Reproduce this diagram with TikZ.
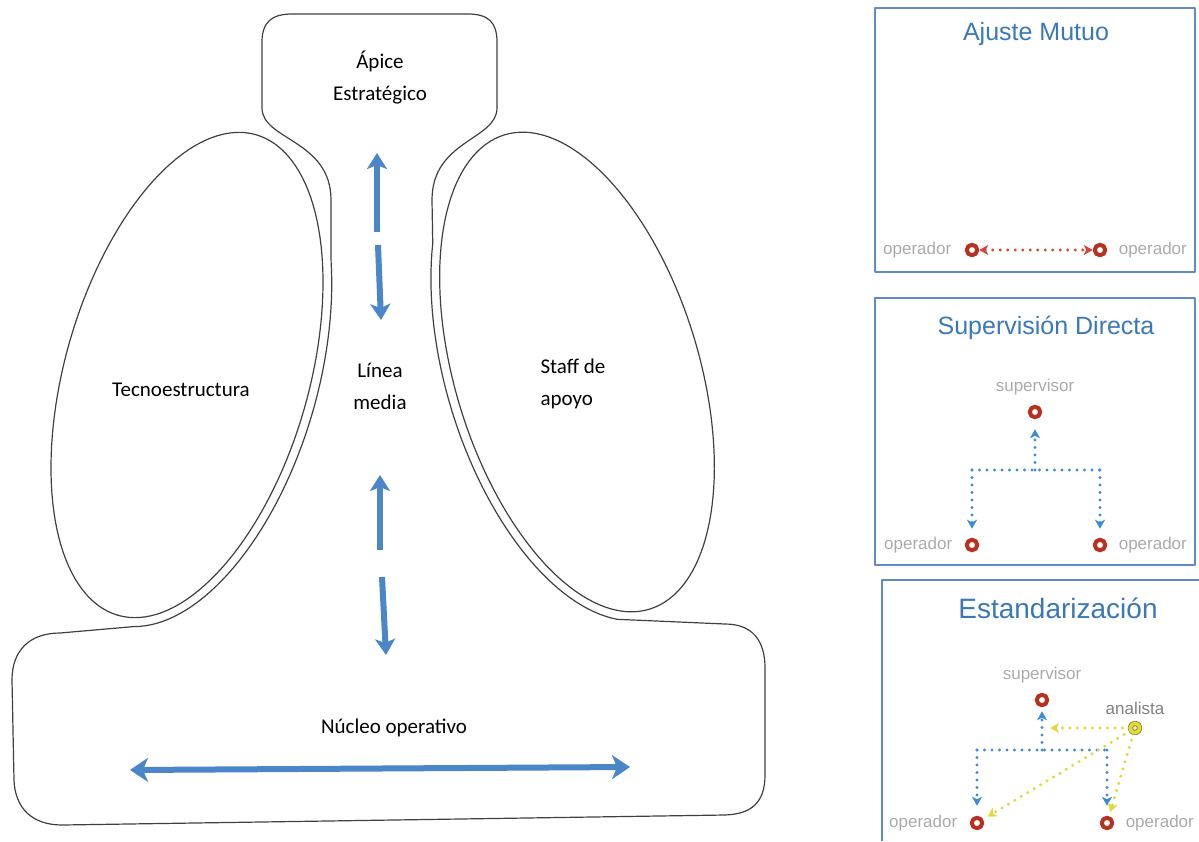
\documentclass[tikz,border=0pt]{standalone}
\usepackage{fontspec}
\setmainfont{Carlito}
\newfontfamily\panelfont{Liberation Sans}
\usepackage{tikz}
\usetikzlibrary{arrows.meta, positioning}
\definecolor{flowblue}{RGB}{74,134,200}
\definecolor{panelblue}{RGB}{95,140,200}
\definecolor{titleblue}{RGB}{58,120,185}
\definecolor{dotblue}{RGB}{60,140,215}
\definecolor{dotred}{RGB}{210,70,55}
\definecolor{dotyellow}{RGB}{226,216,72}
\definecolor{opred}{RGB}{185,48,32}
\definecolor{anayellow}{RGB}{225,220,60}
\definecolor{anaolive}{RGB}{140,140,40}
\definecolor{labelgray}{RGB}{170,170,170}

\begin{document}
\begin{tikzpicture}[x=1pt, y=-1pt, line join=round]
	\tikzstyle{outline}=[draw=black!75, line width=1.2pt]
	\tikzstyle{part}=[font=\fontsize{21}{32}\selectfont, align=center]
	\tikzstyle{flow}=[draw=flowblue, line width=6pt, >={Stealth[length=16pt, width=20pt, inset=4pt]}, ->]
	\tikzstyle{panel}=[draw=panelblue, line width=2pt]
	\tikzstyle{ptitle}=[text=titleblue, font=\panelfont\fontsize{25}{30}\selectfont]
	\tikzstyle{who}=[text=labelgray, font=\panelfont\fontsize{17}{20}\selectfont]
	\tikzstyle{op}=[circle, draw=opred, line width=4pt, fill=white, inner sep=0pt, minimum size=10.5pt]
	\tikzstyle{ana}=[circle, draw=anaolive, double=anayellow, line width=0.9pt, double distance=3.4pt, fill=anayellow!40, inner sep=0pt, minimum size=9.5pt]
	\tikzstyle{dots}=[line width=3.4pt, line cap=round, dash pattern=on 0pt off 7.5pt]
	\tikzstyle{dotarrow}=[>={Stealth[length=9pt, width=10pt, inset=2.5pt]}, ->]
	\useasboundingbox (0,0) rectangle (1199,841);

	\draw[outline, variable=\t, samples=145, domain=0:360] plot ({187+122*cos(16)*cos(\t)+250*sin(16)*sin(\t)}, {375+122*sin(16)*cos(\t)-250*cos(16)*sin(\t)}) -- cycle;
	\draw[outline, variable=\t, samples=145, domain=0:360] plot ({577+122*cos(-17)*cos(\t)+248*sin(-17)*sin(\t)}, {372+122*sin(-17)*cos(\t)-248*cos(-17)*sin(\t)}) -- cycle;

	\draw[outline] (262,108) -- (262,42) .. controls (262,22) and (272,14) .. (292,14) -- (468,14) .. controls (488,14) and (497,22) .. (497,42) -- (497,108)
		.. controls (497,140) and (432,140) .. (432,200)
		-- plot[variable=\t, domain=140:255, samples=50] ({577+131*cos(-17)*cos(\t)+257*sin(-17)*sin(\t)}, {372+131*sin(-17)*cos(\t)-257*cos(-17)*sin(\t)})
		-- (725,624) .. controls (752,624) and (765,640) .. (765,668) -- (765,775) .. controls (765,802) and (752,814) .. (725,815)
		-- (62,825) .. controls (32,825) and (15,808) .. (14,780) -- (12,680) .. controls (12,650) and (30,633) .. (60,633)
		-- plot[variable=\t, domain=-82:35, samples=50] ({187+131*cos(16)*cos(\t)+259*sin(16)*sin(\t)}, {375+131*sin(16)*cos(\t)-259*cos(16)*sin(\t)})
		-- (331,200) .. controls (331,140) and (262,140) .. (262,108) -- cycle;

	\node[part] (apex) at (380,78) {Ápice\\Estratégico};
	\node[part] (techno) at (181,390) {Tecnoestructura};
	\node[part] (mid) at (380,386) {Línea\\media};
	\node[part, align=left, anchor=west] (staff) at (537,384) {Staff de\\apoyo};
	\node[part] (core) at (394,728) {Núcleo operativo};

	\coordinate (ua) at (377,232);
	\coordinate (ut) at (377,153);
	\coordinate (ub) at (378,245);
	\coordinate (ud) at (381,320);
	\coordinate (la) at (380,550);
	\coordinate (lt) at (380,475);
	\coordinate (lb) at (382,577);
	\coordinate (ld) at (386,655);
	\coordinate (hl) at (130,770);
	\coordinate (hr) at (630,767);
	\draw[flow] (ua) -- (ut);
	\draw[flow] (ub) -- (ud);
	\draw[flow] (la) -- (lt);
	\draw[flow] (lb) -- (ld);
	\draw[flow, >={Stealth[length=18pt, width=24pt, inset=5pt]}, <->] (hl) -- (hr);

	\draw[panel] (875,8) rectangle (1195,272);
	\node[ptitle] (mutuo) at (1036,34) {Ajuste Mutuo};
	\node[op] (m1) at (972,250) {};
	\node[op] (m2) at (1100,250) {};
	\node[who, left=10pt of m1] (m1l) {operador};
	\node[who, right=8pt of m2] (m2l) {operador};
	\draw[dots, draw=dotred, dotarrow, <->] (m1) -- (m2);

	\draw[panel] (875,298) rectangle (1195,565);
	\node[ptitle] (superv) at (1046,328) {Supervisión Directa};
	\node[op] (s0) at (1035,412) {};
	\node[who, above=6pt of s0] (s0l) {supervisor};
	\node[op] (s1) at (972,545) {};
	\node[op] (s2) at (1100,545) {};
	\node[who, left=9pt of s1] (s1l) {operador};
	\node[who, right=8pt of s2] (s2l) {operador};
	\coordinate (sj) at (1035,470);
	\coordinate (sl) at (972,470);
	\coordinate (sr) at (1100,470);
	\draw[dots, draw=dotblue] (sl) -- (sr);
	\draw[dots, draw=dotblue, dotarrow, shorten >=10pt] (sj) -- (s0);
	\draw[dots, draw=dotblue, dotarrow, shorten >=9pt] (sl) -- (s1);
	\draw[dots, draw=dotblue, dotarrow, shorten >=9pt] (sr) -- (s2);

	\draw[panel] (882,841) -- (882,580) -- (1199,580);
	\node[ptitle, font=\panelfont\fontsize{28}{32}\selectfont] (stand) at (1058,608) {Estandarización};
	\node[op] (e0) at (1042,700) {};
	\node[who, above=6pt of e0] (e0l) {supervisor};
	\node[ana] (an) at (1135,728) {};
	\node[who, text=black!50, above=5pt of an] (anl) {analista};
	\node[op] (e1) at (977,823) {};
	\node[op] (e2) at (1107,823) {};
	\node[who, left=9pt of e1] (e1l) {operador};
	\node[who, right=8pt of e2] (e2l) {operador};
	\coordinate (ej) at (1042,750);
	\coordinate (el) at (977,750);
	\coordinate (er) at (1107,750);
	\coordinate (ey) at (1050,728);
	\draw[dots, draw=dotblue] (el) -- (er);
	\draw[dots, draw=dotblue, dotarrow, shorten >=4pt] (ej) -- (e0);
	\draw[dots, draw=dotblue, dotarrow, shorten >=10pt] (el) -- (e1);
	\draw[dots, draw=dotblue, dotarrow, shorten >=10pt] (er) -- (e2);
	\draw[dots, draw=dotyellow, dotarrow] (an) -- (ey);
	\draw[dots, draw=dotyellow, dotarrow, shorten >=5pt] (an) -- (e1);
	\draw[dots, draw=dotyellow, dotarrow, shorten >=4pt] (an) -- (e2);
\end{tikzpicture}
\end{document}
